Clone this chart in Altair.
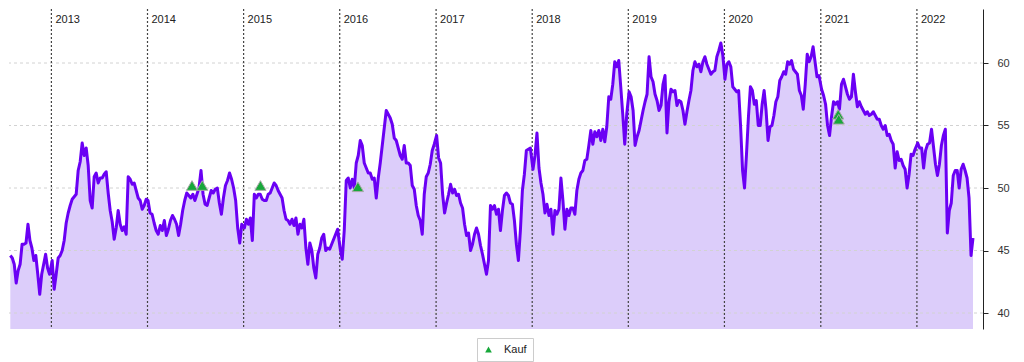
import altair as alt
import pandas as pd

# ---------------- data ----------------
years = [2013, 2014, 2015, 2016, 2017, 2018, 2019, 2020, 2021, 2022]
year_labels = [str(y) for y in years]

v2012 = [44.6, 44.4, 43.9, 42.4, 43.4, 43.9, 45.5, 45.5, 45.6, 47.1, 45.8, 45.2, 44.2, 44.6,
         43.1, 41.5, 43.1, 43.9, 44.7, 43.6, 43.1]
v2013 = [44.2, 41.9, 43.1, 44.4, 44.6, 45.0, 45.8, 47.2, 48.0, 48.6, 49.1, 49.3, 49.5, 51.4,
         52.1, 53.6, 52.6, 53.2, 51.8, 49.0, 48.4, 50.9, 51.2, 50.4, 50.8, 50.8, 51.1, 51.3,
         49.6, 48.2, 47.3, 45.9, 46.8, 48.2, 47.1, 46.6, 46.9, 46.3, 50.9, 50.7, 50.3, 50.4,
         49.8, 49.2, 49.0, 48.3, 48.6, 49.1]
v2014 = [49.0, 48.0, 47.9, 47.2, 46.6, 46.3, 47.0, 46.6, 47.4, 46.2, 46.7, 47.4, 47.8, 47.5,
         47.1, 46.2, 47.1, 48.2, 49.0, 49.6, 49.4, 49.2, 49.5, 49.0, 49.5, 50.0, 51.4, 49.5,
         48.7, 48.6, 49.2, 49.8, 49.6, 49.9, 50.0, 48.8, 47.9, 49.2, 50.2, 50.6, 51.2, 50.7,
         50.0, 49.0, 46.8, 45.6, 47.1]
v2015 = [46.8, 47.5, 47.1, 47.6, 45.8, 49.5, 49.2, 49.5, 49.5, 49.1, 49.0, 49.0, 49.5, 49.6,
         50.0, 50.4, 50.2, 49.8, 49.5, 49.2, 48.2, 47.5, 47.4, 47.1, 47.5, 47.0, 47.6, 46.3,
         47.1, 46.8, 47.5, 45.2, 43.9, 45.6, 45.0, 43.6, 42.8, 44.7, 45.2, 46.0, 46.3, 45.0,
         45.2, 45.1, 45.5, 45.9, 46.3, 46.7]
v2016 = [45.1, 44.3, 46.6, 50.6, 50.8, 50.0, 50.7, 50.0, 52.0, 52.6, 53.8, 53.4, 52.0, 51.6,
         51.2, 51.2, 50.7, 50.8, 49.2, 50.8, 52.0, 53.4, 54.8, 56.2, 55.9, 55.6, 55.1, 54.0,
         53.8, 53.2, 52.6, 52.3, 53.4, 52.0, 52.0, 51.8, 50.2, 49.9, 48.6, 47.8, 47.4, 46.3,
         49.5, 50.9, 51.2, 51.9, 53.0, 53.5]
v2017 = [54.2, 52.4, 52.0, 49.5, 48.0, 48.8, 49.5, 50.3, 49.6, 49.9, 49.4, 49.5, 48.8, 48.4,
         47.1, 46.2, 46.4, 45.0, 45.5, 46.3, 46.8, 46.3, 45.4, 44.7, 43.9, 43.1, 44.2, 48.6,
         48.3, 48.6, 47.9, 48.3, 46.6, 48.2, 49.4, 49.6, 49.4, 48.8, 48.7, 47.4, 45.5, 44.2,
         46.6, 49.8, 51.1, 53.0, 53.1, 53.2]
v2018 = [51.5, 52.6, 54.4, 51.6, 50.4, 49.5, 48.0, 48.7, 47.8, 48.3, 46.3, 48.2, 47.9, 48.3,
         50.8, 49.0, 46.7, 48.3, 47.8, 48.4, 48.4, 47.9, 49.8, 50.7, 51.2, 51.4, 52.2, 52.3,
         53.4, 54.6, 53.5, 54.5, 54.1, 54.6, 53.8, 54.7, 53.7, 54.9, 57.3, 57.1, 58.3, 60.1,
         59.7, 60.2, 58.1, 55.9, 53.5, 55.9]
v2019 = [57.7, 57.3, 56.2, 53.4, 54.1, 54.6, 55.4, 56.2, 56.9, 57.5, 60.5, 58.9, 58.5, 57.5,
         57.0, 56.2, 56.6, 58.3, 59.0, 54.4, 56.9, 57.9, 57.7, 57.8, 56.6, 57.0, 56.9, 56.2,
         55.1, 56.1, 57.0, 57.8, 59.4, 60.1, 59.7, 59.9, 59.3, 60.1, 60.5, 59.9, 59.5, 59.1,
         59.3, 59.4, 60.5, 61.0, 61.6, 60.6]
v2020 = [58.7, 59.9, 60.1, 59.7, 58.1, 57.9, 57.7, 57.8, 54.9, 51.4, 50.0, 52.7, 55.7, 58.1,
         57.8, 56.7, 57.0, 55.0, 55.0, 56.7, 57.8, 56.2, 53.8, 54.9, 55.0, 55.8, 56.9, 57.3,
         58.6, 58.9, 59.3, 59.1, 60.1, 59.9, 60.2, 59.5, 59.3, 59.1, 57.8, 57.4, 56.3, 58.3,
         60.7, 60.1, 60.5, 61.3, 60.1, 58.9, 59.0]
v2021 = [57.9, 57.4, 56.7, 55.0, 54.2, 55.7, 56.9, 56.7, 56.9, 56.3, 58.3, 58.7, 58.1, 57.5,
         57.1, 57.3, 59.1, 57.7, 56.5, 56.9, 56.5, 56.2, 55.9, 56.1, 55.8, 55.9, 56.1, 55.8,
         55.5, 55.5, 55.0, 54.7, 55.0, 54.2, 54.3, 53.8, 53.5, 51.6, 52.9, 52.2, 52.3, 51.8,
         51.5, 50.0, 51.1, 52.7, 52.6, 53.1]
v2022 = [53.6, 53.2, 53.2, 51.6, 53.0, 53.5, 53.6, 54.7, 53.3, 51.9, 51.0, 51.9, 53.4, 54.2,
         54.7, 46.4, 48.2, 48.8, 51.0, 51.4, 51.4, 50.0, 51.5, 51.9, 51.4, 50.8, 49.2, 44.6, 46.0]

# first and last trading day covered by each year's list
segments = [
    ("2012-07-29", "2012-12-25", v2012),
    ("2013-01-04", "2013-12-27", v2013),
    ("2014-01-03", "2014-12-25", v2014),
    ("2015-01-04", "2015-12-24", v2015),
    ("2016-01-03", "2016-12-25", v2016),
    ("2017-01-03", "2017-12-25", v2017),
    ("2018-01-04", "2018-12-26", v2018),
    ("2019-01-04", "2019-12-26", v2019),
    ("2020-01-03", "2020-12-25", v2020),
    ("2021-01-04", "2021-12-25", v2021),
    ("2022-01-04", "2022-08-02", v2022),
]

buy_dates = ["2014-06-19", "2014-07-28", "2015-03-06", "2016-03-10", "2021-03-08", "2021-03-10"]
buy_prices = [50.2, 50.2, 50.2, 50.1, 55.9, 55.5]
buy_label = "Kauf"

grid_values = [40, 45, 50, 55, 60]

# ---------------- build tables ----------------
frames = []
for start, end, vals in segments:
    frames.append(pd.DataFrame({
        "date": pd.date_range(start, end, periods=len(vals)),
        "price": vals,
    }))
prices = pd.concat(frames, ignore_index=True)

year_df = pd.DataFrame({
    "date": pd.to_datetime([f"{y}-01-01" for y in years]),
    "label": year_labels,
})
buy_df = pd.DataFrame({
    "date": pd.to_datetime(buy_dates),
    "price": buy_prices,
    "kind": [buy_label] * len(buy_dates),
})
grid_df = pd.DataFrame({"v": grid_values})

# ---------------- styling ----------------
LINE = "#6a00f4"
FILL = "#dccdfa"
GREEN = "#17a83a"
FONT = "Liberation Sans"

Y_MIN, Y_MAX = 38.72, 64.32
x_scale = alt.Scale(domain=[alt.DateTime(year=2012, month=7, date=24),
                            alt.DateTime(year=2022, month=9, date=9)])
y_scale = alt.Scale(domain=[Y_MIN, Y_MAX], zero=False, nice=False)
y_axis = alt.Axis(orient="right", values=grid_values, grid=False, title=None,
                  domainColor="#222", tickColor="#222", tickSize=5,
                  labelFontSize=11, labelColor="#333", labelPadding=9,
                  labelFont=FONT)


def xch():
    return alt.X("date:T", scale=x_scale, axis=None)


def ych(field):
    return alt.Y(field, scale=y_scale, axis=y_axis)


area = alt.Chart(prices).mark_area(color=FILL, opacity=1).encode(
    x=xch(), y=ych("price:Q"), y2=alt.datum(Y_MIN)
)

hgrid = alt.Chart(grid_df).mark_rule(color="#d2d2d2", strokeDash=[3, 3], strokeWidth=1).encode(
    y=ych("v:Q")
)

yrules = alt.Chart(year_df).mark_rule(color="#444444", strokeDash=[2, 2], strokeWidth=1.2).encode(
    x=xch()
)

ylabels = alt.Chart(year_df).mark_text(
    align="left", baseline="middle", dx=4, fontSize=11, font=FONT, color="#222"
).encode(x=xch(), y=alt.datum(63.45), text="label:N")

line = alt.Chart(prices).mark_line(
    color=LINE, strokeWidth=3, strokeJoin="round", interpolate="linear"
).encode(x=xch(), y=ych("price:Q"))

buys = alt.Chart(buy_df).mark_point(
    shape="triangle-up", filled=True, size=125, stroke="#a8a8a8", strokeWidth=1, opacity=1
).encode(
    x=xch(),
    y=ych("price:Q"),
    color=alt.Color(
        "kind:N",
        scale=alt.Scale(domain=[buy_label], range=[GREEN]),
        legend=alt.Legend(
            title=None, orient="none", legendX=468, legendY=329,
            strokeColor="#cccccc", fillColor="white", padding=6,
            symbolType="triangle-up", symbolSize=45, symbolStrokeWidth=0,
            labelFontSize=11, labelFont=FONT, labelColor="#222", labelOffset=10,
        ),
    ),
)

chart = alt.layer(area, hgrid, yrules, line, ylabels, buys).properties(
    width=974, height=320, padding=0, background="white"
).configure_view(stroke=None)

chart.save("out.html", embed_options={"renderer": "svg", "actions": False})
